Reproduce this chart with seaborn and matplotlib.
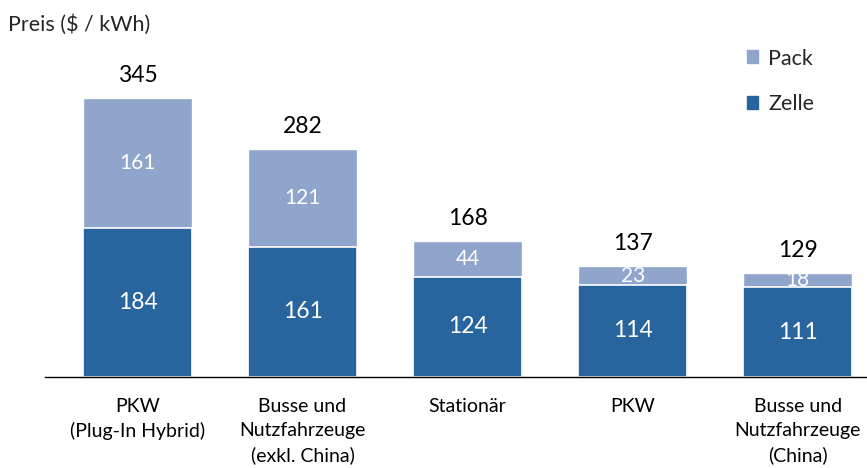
import matplotlib
matplotlib.use("Agg")
import matplotlib.pyplot as plt
import seaborn as sns
import pandas as pd
from matplotlib.patches import Patch

# data
categories = ["PKW\n(Plug-In Hybrid)", "Busse und\nNutzfahrzeuge\n(exkl. China)",
              "Stationär", "PKW", "Busse und\nNutzfahrzeuge\n(China)"]
zelle = [184, 161, 124, 114, 111]
pack = [161, 121, 44, 23, 18]
total = [z + p for z, p in zip(zelle, pack)]

col_pack = "#8FA5CB"
col_zelle = "#28659E"

sns.set_theme(style="white")
plt.rcParams["font.family"] = ["Lato", "DejaVu Sans"]

df = pd.DataFrame({"cat": categories, "zelle": zelle, "pack": pack, "total": total})

fig = plt.figure(figsize=(8.67, 4.68), dpi=100)
ax = fig.add_axes([0.052, 0.1944, 0.948, 0.795])

# full bar (Pack colour) then Zelle on top
sns.barplot(data=df, x="cat", y="total", order=categories, color=col_pack,
            saturation=1, width=0.66, ax=ax)
sns.barplot(data=df, x="cat", y="zelle", order=categories, color=col_zelle,
            saturation=1, width=0.66, edgecolor="white", linewidth=1.2, ax=ax)

for i in range(len(categories)):
    ax.text(i, total[i] + 28, str(total[i]), ha="center", va="center",
            fontsize=16.5, color="black")
    ax.text(i, zelle[i] / 2, str(zelle[i]), ha="center", va="center",
            fontsize=16.5, color="white")
    ax.text(i, zelle[i] + pack[i] / 2, str(pack[i]), ha="center", va="center",
            fontsize=15, color="white")

ax.set_xlim(-0.56, 4.42)
ax.set_ylim(0, 460)
ax.set_yticks([])
ax.set_xlabel("")
ax.set_ylabel("")
ax.tick_params(axis="x", length=0, pad=15, labelsize=14, colors="black")
for lab in ax.get_xticklabels():
    lab.set_linespacing(1.5)
for s in ["top", "right", "left"]:
    ax.spines[s].set_visible(False)
ax.spines["bottom"].set_color("black")
ax.spines["bottom"].set_linewidth(1)

fig.text(0.009, 0.948, "Preis ($ / kWh)", fontsize=15.5, ha="left", va="center")

handles = [Patch(color=col_pack, label="Pack"), Patch(color=col_zelle, label="Zelle")]
ax.legend(handles=handles, loc="upper left", bbox_to_anchor=(0.83, 0.935),
          frameon=False, fontsize=15.5, handlelength=0.55, handleheight=0.55,
          handletextpad=0.45, labelspacing=1.2)

fig.savefig("out.png", dpi=100)
